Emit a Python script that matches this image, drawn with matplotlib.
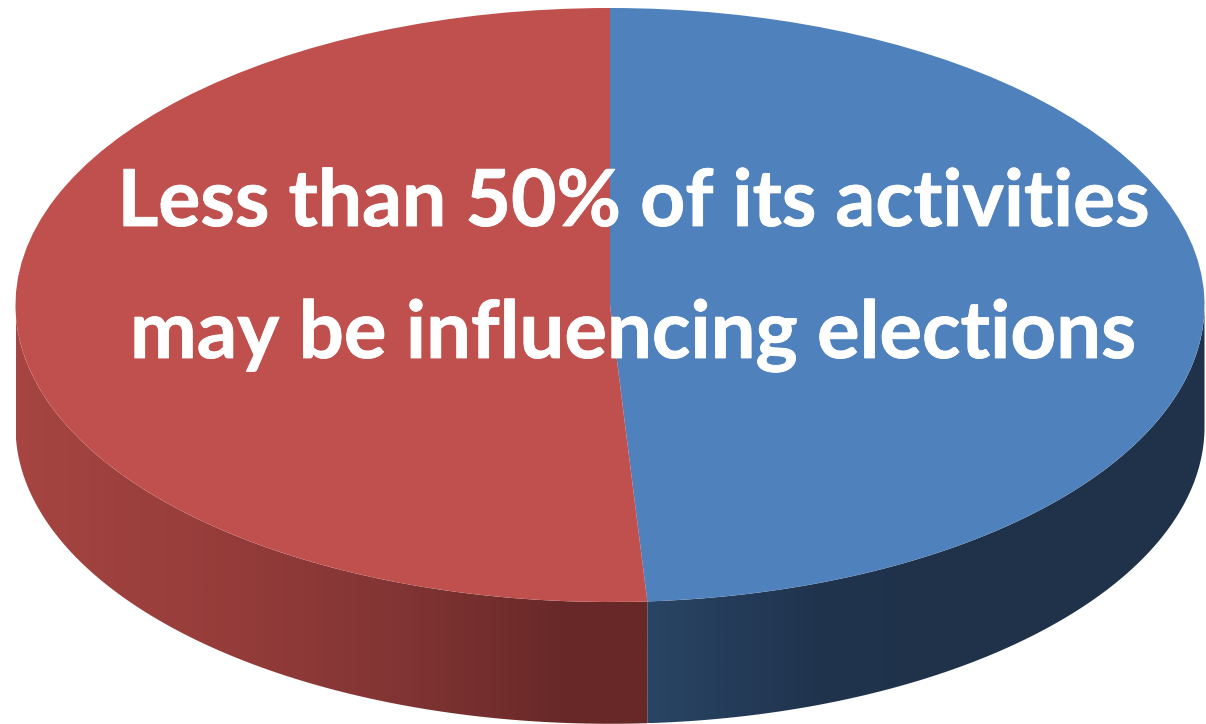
import numpy as np
import matplotlib
matplotlib.use("Agg")
from matplotlib import pyplot as plt
from matplotlib import patheffects as pe
from matplotlib.colors import LinearSegmentedColormap
from matplotlib.patches import Polygon

shares = [49, 51]  # blue, red
top_colors = ["#4f81bd", "#c0504d"]
# wall shade going outwards from the front of the pie
wall_stops = [
    [(0, "#294565"), (0.3, "#20344e"), (0.55, "#1f3249"), (1, "#1f3249")],
    [(0, "#672827"), (0.3, "#803433"), (0.6, "#943c3a"), (1, "#a64541")],
]
text_lines = ["Less than 50% of its activities", "may be influencing elections"]

W, H = 1206, 724
fig = plt.figure(figsize=(W / 100, H / 100), dpi=100)
ax = fig.add_axes([0, 0, 1, 1])

# pie is a unit circle, squashed by the axis limits
cx, cy, rx, ry = 610, 305, 594.5, 297
depth = 0.41
start = 90
wedges, _ = ax.pie(shares, colors=top_colors, startangle=start, counterclock=False, radius=1)
ax.set_aspect("auto")

# side wall, only the front half of each slice is seen
edges = np.cumsum([0] + shares) / sum(shares) * 360
for i in range(len(shares)):
    ang = np.linspace(start - edges[i], start - edges[i + 1], 800)
    ang = np.radians(ang[np.sin(np.radians(ang)) <= 0])
    x, y = np.cos(ang), np.sin(ang)
    outline = np.vstack([np.column_stack([x, y]), np.column_stack([x[::-1], y[::-1] - depth])])
    cmap = LinearSegmentedColormap.from_list("wall", wall_stops[i])
    grad = np.abs(np.linspace(x.min(), x.max(), 600))[None, :]
    im = ax.imshow(grad, cmap=cmap, vmin=0.06, vmax=1, aspect="auto", zorder=0.5,
                   extent=(x.min(), x.max(), y.min() - depth, y.max()))
    im.set_clip_path(Polygon(outline, closed=True, transform=ax.transData))

# imshow resets the limits
ax.set_xlim(-cx / rx, (W - cx) / rx)
ax.set_ylim(-(H - cy) / ry, cy / ry)

heavy = [pe.withStroke(linewidth=0.6, foreground="white")]
ax.text((633.5 - cx) / rx, (cy - 226) / ry, text_lines[0], color="white", fontsize=56.6,
        fontweight="bold", family="Lato", ha="center", va="baseline", zorder=5, path_effects=heavy)
ax.text((633.5 - cx) / rx, (cy - 358) / ry, text_lines[1], color="white", fontsize=57.4,
        fontweight="bold", family="Lato", ha="center", va="baseline", zorder=5, path_effects=heavy)

fig.savefig("out.png", dpi=100, facecolor="white")
